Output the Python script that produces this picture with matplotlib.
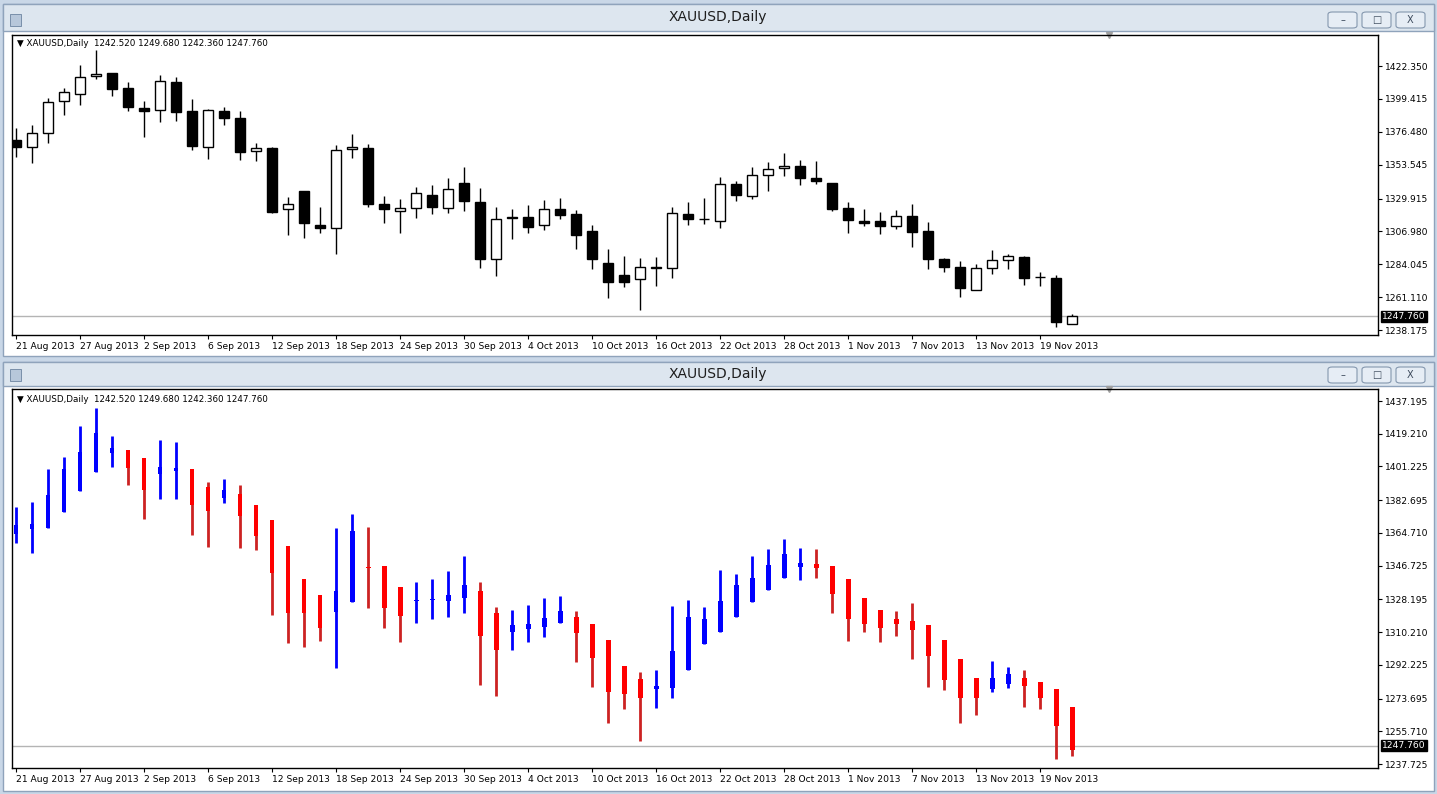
import matplotlib
matplotlib.use("Agg")
import matplotlib.pyplot as plt
from matplotlib.patches import Rectangle, FancyBboxPatch
import numpy as np

# ---- candle data (top: regular OHLC) ----
opens = [1370.7, 1365.8, 1375.6, 1397.9, 1402.8, 1415.4, 1417.5, 1407.0, 1393.0, 1391.7,
         1411.2, 1391.0, 1365.8, 1391.0, 1386.1, 1363.1, 1365.1, 1322.6, 1335.1, 1311.4,
         1309.3, 1364.4, 1365.1, 1326.1, 1321.2, 1323.3, 1332.4, 1323.3, 1340.7, 1327.5,
         1287.7, 1316.3, 1317.0, 1311.4, 1322.6, 1319.1, 1307.2, 1284.9, 1276.6, 1273.7,
         1281.4, 1281.4, 1319.1, 1315.6, 1314.2, 1340.0, 1331.7, 1346.3, 1351.2, 1352.6,
         1344.2, 1340.7, 1323.3, 1314.2, 1314.2, 1310.7, 1317.7, 1307.2, 1287.7, 1282.1,
         1266.1, 1281.4, 1287.0, 1289.1, 1275.1, 1274.4, 1242.52]
highs = [1379.1, 1381.2, 1400.0, 1407.0, 1423.0, 1433.5, 1417.5, 1411.2, 1397.9, 1416.1,
         1414.7, 1399.3, 1392.4, 1393.7, 1391.0, 1368.6, 1365.8, 1331.0, 1335.1, 1324.0,
         1367.2, 1374.9, 1367.9, 1331.7, 1329.6, 1337.9, 1339.3, 1344.2, 1351.9, 1337.2,
         1324.0, 1322.6, 1325.4, 1328.9, 1330.3, 1321.9, 1311.4, 1294.7, 1289.8, 1288.4,
         1289.1, 1324.0, 1327.5, 1330.3, 1344.9, 1342.1, 1351.9, 1355.4, 1361.7, 1356.8,
         1356.1, 1340.7, 1327.5, 1322.6, 1320.5, 1321.9, 1326.1, 1313.5, 1288.4, 1286.3,
         1284.2, 1294.0, 1291.2, 1289.8, 1278.6, 1276.6, 1249.68]
lows = [1358.9, 1354.7, 1368.6, 1388.2, 1395.1, 1413.3, 1401.4, 1391.0, 1372.8, 1383.3,
        1384.0, 1363.7, 1357.5, 1381.2, 1356.8, 1356.1, 1319.8, 1304.4, 1302.3, 1305.8,
        1291.2, 1358.2, 1324.0, 1312.8, 1305.8, 1316.3, 1319.1, 1319.8, 1321.2, 1281.4,
        1275.8, 1301.6, 1305.8, 1307.9, 1315.6, 1294.7, 1280.7, 1260.5, 1268.2, 1252.1,
        1268.9, 1274.4, 1311.4, 1312.1, 1309.3, 1328.2, 1329.6, 1335.1, 1345.6, 1339.3,
        1340.0, 1321.2, 1305.8, 1310.7, 1305.1, 1308.6, 1296.1, 1280.7, 1278.6, 1261.2,
        1266.1, 1277.2, 1280.7, 1269.5, 1268.9, 1240.3, 1242.36]
closes = [1365.8, 1375.6, 1397.2, 1404.2, 1414.7, 1416.8, 1406.3, 1393.7, 1391.0, 1411.9,
          1390.3, 1366.5, 1391.7, 1386.1, 1362.4, 1365.1, 1320.5, 1326.1, 1312.8, 1309.3,
          1363.7, 1365.8, 1326.1, 1322.6, 1323.3, 1333.7, 1324.0, 1336.5, 1328.2, 1287.7,
          1315.6, 1316.3, 1310.0, 1322.6, 1318.4, 1304.4, 1287.7, 1271.7, 1271.7, 1282.1,
          1281.6, 1319.8, 1315.6, 1315.4, 1340.0, 1332.4, 1346.3, 1350.5, 1352.6, 1344.2,
          1342.1, 1322.6, 1314.9, 1312.8, 1310.7, 1317.7, 1306.5, 1287.7, 1282.1, 1267.5,
          1281.4, 1287.0, 1289.8, 1274.4, 1275.0, 1243.7, 1247.76]

# ---- bottom panel (Heikin-Ashi bars) ----
ha_open = [1364.1, 1366.7, 1367.2, 1376.0, 1387.7, 1398.0, 1408.8, 1410.3, 1405.7, 1397.1,
           1398.7, 1399.8, 1390.0, 1383.7, 1386.1, 1380.1, 1371.8, 1357.5, 1339.4, 1330.6,
           1321.4, 1326.9, 1346.2, 1346.5, 1335.0, 1327.1, 1327.6, 1327.5, 1329.1, 1332.8,
           1320.5, 1310.4, 1311.9, 1313.2, 1315.0, 1318.5, 1314.5, 1305.7, 1291.6, 1284.4,
           1278.8, 1279.7, 1289.4, 1303.7, 1310.1, 1318.7, 1326.8, 1333.4, 1339.9, 1346.2,
           1347.6, 1346.5, 1339.4, 1329.1, 1322.4, 1317.4, 1316.3, 1314.1, 1305.9, 1295.4,
           1285.0, 1278.9, 1281.7, 1285.0, 1282.8, 1278.9, 1269.0]
ha_high = [1378.8, 1381.5, 1399.8, 1406.3, 1423.3, 1433.2, 1418.0, 1410.3, 1405.7, 1415.8,
           1414.5, 1399.8, 1392.9, 1394.3, 1391.0, 1380.1, 1371.8, 1357.5, 1339.4, 1330.6,
           1367.2, 1374.9, 1367.8, 1346.5, 1335.0, 1337.7, 1339.4, 1343.8, 1352.0, 1337.7,
           1323.8, 1322.4, 1325.1, 1329.1, 1330.1, 1321.8, 1314.5, 1305.7, 1291.6, 1288.3,
           1289.4, 1324.7, 1327.9, 1324.0, 1344.3, 1342.1, 1352.0, 1355.9, 1361.4, 1356.4,
           1355.9, 1346.5, 1339.4, 1329.1, 1322.4, 1321.8, 1326.2, 1314.1, 1305.9, 1295.4,
           1285.0, 1294.3, 1291.0, 1289.4, 1282.8, 1278.9, 1269.0]
ha_low = [1359.0, 1353.9, 1367.2, 1376.0, 1387.7, 1398.0, 1401.1, 1391.0, 1372.4, 1383.4,
          1383.4, 1363.6, 1357.2, 1381.0, 1356.6, 1355.3, 1319.6, 1304.0, 1302.2, 1305.3,
          1290.7, 1326.9, 1323.6, 1312.7, 1305.0, 1315.4, 1317.4, 1318.7, 1320.7, 1281.3,
          1275.3, 1300.4, 1305.0, 1307.7, 1315.0, 1293.9, 1280.2, 1260.1, 1267.8, 1250.6,
          1268.7, 1273.8, 1289.4, 1303.7, 1310.1, 1318.7, 1326.8, 1333.4, 1339.9, 1338.8,
          1340.1, 1320.7, 1305.3, 1310.3, 1305.0, 1308.3, 1295.4, 1280.2, 1278.4, 1260.4,
          1264.7, 1277.5, 1279.7, 1269.2, 1268.1, 1240.3, 1241.9]
ha_close = [1369.1, 1369.6, 1385.6, 1399.8, 1409.0, 1419.4, 1411.6, 1400.6, 1388.3, 1401.1,
            1400.6, 1380.1, 1376.8, 1388.3, 1374.0, 1363.0, 1342.9, 1320.9, 1320.9, 1312.7,
            1332.8, 1365.8, 1345.6, 1323.3, 1319.2, 1327.5, 1328.1, 1330.4, 1335.9, 1308.3,
            1300.4, 1314.1, 1314.5, 1317.8, 1321.8, 1309.9, 1296.2, 1277.5, 1276.4, 1273.8,
            1280.6, 1299.8, 1318.3, 1317.4, 1327.3, 1336.1, 1340.1, 1347.1, 1353.1, 1348.2,
            1345.6, 1331.2, 1317.4, 1314.9, 1312.7, 1314.9, 1311.4, 1297.3, 1283.9, 1274.2,
            1274.2, 1284.8, 1287.0, 1280.8, 1274.2, 1258.8, 1245.6]

date_labels = ["21 Aug 2013", "27 Aug 2013", "2 Sep 2013", "6 Sep 2013", "12 Sep 2013",
               "18 Sep 2013", "24 Sep 2013", "30 Sep 2013", "4 Oct 2013", "10 Oct 2013",
               "16 Oct 2013", "22 Oct 2013", "28 Oct 2013", "1 Nov 2013", "7 Nov 2013",
               "13 Nov 2013", "19 Nov 2013"]
date_bars = list(range(0, 68, 4))

top_ticks = [1422.350, 1399.415, 1376.480, 1353.545, 1329.915, 1306.980, 1284.045,
             1261.110, 1238.175]
bottom_ticks = [1437.195, 1419.210, 1401.225, 1382.695, 1364.710, 1346.725, 1328.195,
                1310.210, 1292.225, 1273.695, 1255.710, 1237.725]
last_price = 1247.76
header = "XAUUSD,Daily  1242.520 1249.680 1242.360 1247.760"
title = "XAUUSD,Daily"

W, H = 1437, 794
fig = plt.figure(figsize=(W / 100, H / 100), dpi=100)
fig.patch.set_facecolor("#c9d7e7")


def fx(x):
    return x / W


def fy(y):
    return 1 - y / H


def window(y0, y1, title_y1):
    # window body and title bar, kept behind the axes
    fig.add_artist(Rectangle((fx(3), fy(y1)), fx(1431), (y1 - y0) / H,
                             facecolor="white", edgecolor="#8fa3bb", lw=1, zorder=-5))
    fig.add_artist(Rectangle((fx(3), fy(title_y1)), fx(1431), (title_y1 - y0) / H,
                             facecolor="#dde6ef", edgecolor="#8fa3bb", lw=1, zorder=-4))
    fig.text(fx(718), fy((y0 + title_y1) / 2), title, ha="center", va="center",
             fontsize=10, color="#1e1e1e")
    for bx, glyph in [(1328, "\u2013"), (1362, "\u25a1"), (1396, "X")]:
        fig.add_artist(FancyBboxPatch((fx(bx), fy(title_y1 - 3)), fx(29), 16 / H,
                                      boxstyle="round,pad=0,rounding_size=0.003",
                                      facecolor="#e6edf5", edgecolor="#8497ae", lw=0.8,
                                      zorder=-3))
        fig.text(fx(bx + 14.5), fy(title_y1 - 11), glyph, ha="center", va="center",
                 fontsize=7, color="#3c4a5c")
    fig.add_artist(Rectangle((fx(10), fy(title_y1 - 5)), fx(11), 12 / H,
                             facecolor="#b7c7da", edgecolor="#6c84a0", lw=0.6, zorder=-3))


window(4, 356, 31)
window(362, 791, 386)

x = np.arange(len(opens))


def setup_axes(ax, ylo, yhi, ticks):
    ax.set_xlim(-0.25, 85.1)
    ax.set_ylim(ylo, yhi)
    ax.yaxis.tick_right()
    ax.set_yticks(ticks)
    ax.set_yticklabels([f"{t:.3f}" for t in ticks])
    ax.set_xticks(date_bars)
    ax.set_xticklabels(date_labels, ha="left")
    ax.tick_params(axis="both", labelsize=6.6, length=3, width=0.8, pad=2, colors="black")
    for s in ax.spines.values():
        s.set_linewidth(1)
    ax.axhline(last_price, color="#b4b4b4", lw=1, zorder=0)
    ax.text(85.35, last_price, f"{last_price:.3f}", transform=ax.transData, fontsize=6.6,
            color="white", va="center", ha="left",
            bbox=dict(boxstyle="square,pad=0.12", facecolor="black", edgecolor="black"),
            clip_on=False, zorder=10)
    ax.text(0.004, 0.985, "\u25bc " + header, transform=ax.transAxes, fontsize=6.3,
            va="top", ha="left")
    ax.plot([68.3], [1], transform=ax.get_xaxis_transform(), marker="v", ms=5,
            color="#a0a0a0", clip_on=False)


# top: regular candlesticks
ax1 = fig.add_axes([fx(12), fy(335), fx(1366), 300 / H])
setup_axes(ax1, 1234.69, 1443.98, top_ticks)
o, h, l, c = map(np.array, (opens, highs, lows, closes))
ax1.vlines(x, l, h, color="black", lw=1, zorder=1)
up = c >= o
body_lo = np.minimum(o, c)
body_h = np.maximum(np.abs(c - o), 0.4)
ax1.bar(x[up], body_h[up], bottom=body_lo[up], width=0.62, facecolor="white",
        edgecolor="black", lw=1, zorder=2)
ax1.bar(x[~up], body_h[~up], bottom=body_lo[~up], width=0.62, facecolor="black",
        edgecolor="black", lw=1, zorder=2)

# bottom: heikin-ashi bars
ax2 = fig.add_axes([fx(12), fy(768), fx(1366), 379 / H])
setup_axes(ax2, 1235.54, 1443.79, bottom_ticks)
ho, hh, hl, hc = map(np.array, (ha_open, ha_high, ha_low, ha_close))
bull = hc >= ho
ax2.vlines(x[bull], hl[bull], hh[bull], color="#0000ff", lw=2, zorder=1)
ax2.vlines(x[~bull], hl[~bull], hh[~bull], color="#cc2222", lw=2, zorder=1)
hb_lo = np.minimum(ho, hc)
hb_h = np.maximum(np.abs(hc - ho), 0.6)
ax2.bar(x[bull], hb_h[bull], bottom=hb_lo[bull], width=0.3, color="#0000ff", zorder=2)
ax2.bar(x[~bull], hb_h[~bull], bottom=hb_lo[~bull], width=0.3, color="#ff0000", zorder=2)

fig.savefig("out.png", dpi=100, facecolor=fig.get_facecolor())
